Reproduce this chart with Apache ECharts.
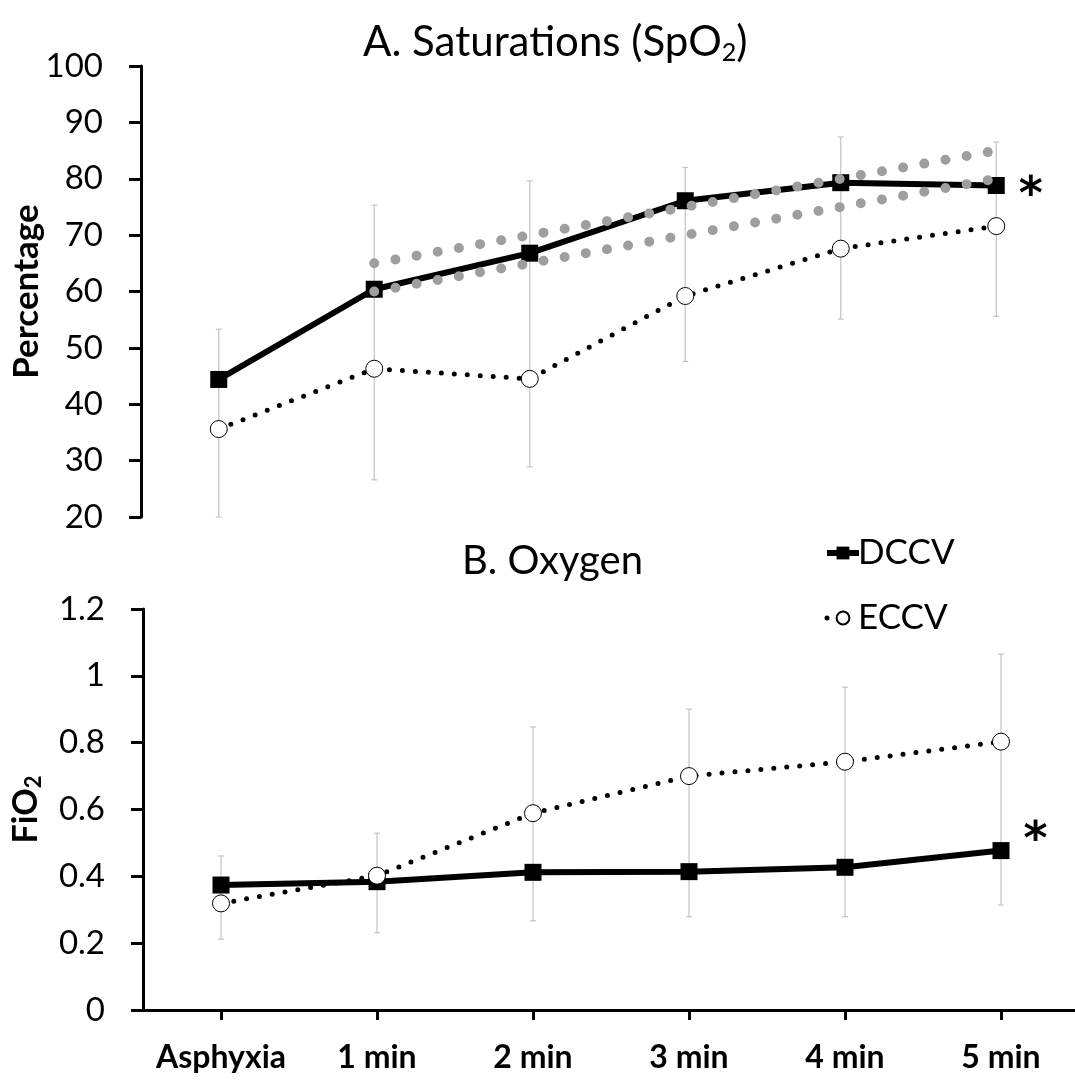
<!DOCTYPE html>
<html><head><meta charset="utf-8">
<script src="https://cdn.jsdelivr.net/npm/echarts@6/dist/echarts.min.js"></script>
<style>html,body{margin:0;padding:0;background:#fff}#c{width:1075px;height:1084px}</style>
</head><body><div id="c"></div>
<script>
// ---- data ----
const categories = ['Asphyxia', '1 min', '2 min', '3 min', '4 min', '5 min'];
const spo2DCCV = [44.4, 60.4, 66.8, 76.1, 79.3, 78.8];
const spo2ECCV = [35.6, 46.3, 44.5, 59.2, 67.6, 71.6];
const spo2ErrHigh = [53.3, 75.3, 79.6, 82.0, 87.4, 86.5];
const spo2ErrLow = [20.0, 26.6, 28.9, 47.6, 55.1, 55.6];
const targetUpper = [null, 65, 70, 75, 80, 85];
const targetLower = [null, 60, 65, 70, 75, 80];
const fio2DCCV = [0.374, 0.384, 0.412, 0.414, 0.427, 0.477];
const fio2ECCV = [0.319, 0.402, 0.589, 0.700, 0.743, 0.803];
const fio2ErrHigh = [0.461, 0.529, 0.847, 0.900, 0.966, 1.065];
const fio2ErrLow = [0.212, 0.231, 0.267, 0.279, 0.279, 0.314];
const spo2Ticks = [20, 30, 40, 50, 60, 70, 80, 90, 100];
const fio2Ticks = [0, 0.2, 0.4, 0.6, 0.8, 1, 1.2];
const seriesNames = ['DCCV', 'ECCV'];
const significanceMark = '*';

// ---- chart ----
const FONT = 'Lato';
const chart = echarts.init(document.getElementById('c'), null, {renderer: 'canvas'});

function errRender(params, api) {
  const x = api.value(0);
  const pHi = api.coord([x, api.value(1)]);
  const pLo = api.coord([x, api.value(2)]);
  const cw = 3;
  const style = {stroke: '#c3c3c3', lineWidth: 1.2};
  return {type: 'group', children: [
    {type: 'line', shape: {x1: pHi[0], y1: pHi[1], x2: pLo[0], y2: pLo[1]}, style: style},
    {type: 'line', shape: {x1: pHi[0] - cw, y1: pHi[1], x2: pHi[0] + cw, y2: pHi[1]}, style: style},
    {type: 'line', shape: {x1: pLo[0] - cw, y1: pLo[1], x2: pLo[0] + cw, y2: pLo[1]}, style: style}
  ]};
}
function errData(hi, lo) { return categories.map((c, i) => [i, hi[i], lo[i]]); }
function withMark(arr, offset) {
  return arr.map((v, i) => i === arr.length - 1 ? {
    value: v,
    label: {show: true, formatter: significanceMark, position: 'right', distance: 14, offset: offset,
      fontSize: 46, fontWeight: 'bold', color: '#000', fontFamily: 'DejaVu Sans'}
  } : v);
}

const yAxisCommon = {
  type: 'value',
  axisLine: {show: true, lineStyle: {color: '#000', width: 3}},
  axisTick: {show: true, length: 12, lineStyle: {color: '#000', width: 3}},
  splitLine: {show: false},
  axisLabel: {fontSize: 33, color: '#000', fontFamily: FONT, margin: 38},
  nameLocation: 'middle',
  nameRotate: 90,
  nameMoveOverlap: false
};

const dccvStyle = {
  type: 'line', symbol: 'rect', symbolSize: 17,
  itemStyle: {color: '#000'},
  lineStyle: {color: '#000', width: 6},
  z: 3
};
const eccvStyle = {
  type: 'line', symbol: 'circle', symbolSize: 17,
  itemStyle: {color: '#fff', borderColor: '#000', borderWidth: 1},
  lineStyle: {color: '#000', width: 5, type: [0, 13], cap: 'round'},
  z: 4
};
const targetStyle = {
  type: 'line', symbol: 'none', silent: true,
  lineStyle: {color: '#9e9e9e', width: 10, type: [0, 21.5], cap: 'round'},
  z: 5
};

const option = {
  backgroundColor: '#fff',
  animation: false,
  title: [
    {text: '{a|A. Saturations (SpO}{s|2}{a|)}', left: 358, top: 14,
      textStyle: {fontWeight: 'normal', rich: {a: {fontSize: 42, fontFamily: FONT, color: '#000', fontWeight: 'normal'},
        s: {fontSize: 25, fontFamily: FONT, color: '#000', fontWeight: 'normal', padding: [21, 0, 0, 0]}}}},
    {text: 'B. Oxygen', left: 457, top: 536,
      textStyle: {fontSize: 40, fontFamily: FONT, color: '#000', fontWeight: 'normal'}}
  ],
  legend: {
    data: [
      {name: seriesNames[0], lineStyle: {width: 6}},
      {name: seriesNames[1], lineStyle: {width: 5, type: [0, 16], cap: 'round'}}
    ],
    orient: 'vertical', left: 824, top: 532, padding: 0,
    itemWidth: 32, itemHeight: 16, itemGap: 23,
    textStyle: {fontSize: 35, fontFamily: FONT, color: '#000', lineHeight: 42, padding: [0, 0, 0, -6]}
  },
  grid: [
    {left: 141, top: 66, width: 933, height: 451, containLabel: false, outerBoundsMode: 'none'},
    {left: 143, top: 609, width: 936, height: 401, containLabel: false, outerBoundsMode: 'none'}
  ],
  xAxis: [
    {type: 'category', gridIndex: 0, data: categories, show: false},
    {type: 'category', gridIndex: 1, data: categories,
      axisLine: {show: true, lineStyle: {color: '#000', width: 3}},
      axisTick: {show: true, alignWithLabel: true, length: 10, lineStyle: {color: '#000', width: 3}},
      axisLabel: {fontSize: 32, fontWeight: 'bold', color: '#000', fontFamily: FONT, margin: 32, interval: 0}}
  ],
  yAxis: [
    Object.assign({}, yAxisCommon, {gridIndex: 0,
      min: spo2Ticks[0], max: spo2Ticks[spo2Ticks.length - 1], interval: spo2Ticks[1] - spo2Ticks[0],
      name: 'Percentage', nameGap: 97,
      nameTextStyle: {fontSize: 35, fontWeight: 'bold', color: '#000', fontFamily: FONT}}),
    Object.assign({}, yAxisCommon, {gridIndex: 1,
      min: fio2Ticks[0], max: fio2Ticks[fio2Ticks.length - 1], interval: fio2Ticks[1] - fio2Ticks[0],
      axisLabel: Object.assign({}, yAxisCommon.axisLabel, {formatter: v => String(+v.toFixed(1))}),
      name: '{a|FiO}{s|2}', nameGap: 98,
      nameTextStyle: {rich: {a: {fontSize: 34, fontWeight: 'bold', color: '#000', fontFamily: FONT},
        s: {fontSize: 22, fontWeight: 'bold', color: '#000', fontFamily: FONT, padding: [16, 0, 0, 0]}}}})
  ],
  series: [
    {type: 'custom', xAxisIndex: 0, yAxisIndex: 0, renderItem: errRender, data: errData(spo2ErrHigh, spo2ErrLow),
      encode: {x: 0, y: [1, 2]}, z: 1, silent: true},
    Object.assign({}, dccvStyle, {name: seriesNames[0], xAxisIndex: 0, yAxisIndex: 0,
      data: withMark(spo2DCCV, [0, 12])}),
    Object.assign({}, eccvStyle, {name: seriesNames[1], xAxisIndex: 0, yAxisIndex: 0, data: spo2ECCV}),
    Object.assign({}, targetStyle, {name: 'target-upper', xAxisIndex: 0, yAxisIndex: 0, data: targetUpper}),
    Object.assign({}, targetStyle, {name: 'target-lower', xAxisIndex: 0, yAxisIndex: 0, data: targetLower}),

    {type: 'custom', xAxisIndex: 1, yAxisIndex: 1, renderItem: errRender, data: errData(fio2ErrHigh, fio2ErrLow),
      encode: {x: 0, y: [1, 2]}, z: 1, silent: true},
    Object.assign({}, dccvStyle, {name: seriesNames[0], xAxisIndex: 1, yAxisIndex: 1,
      data: withMark(fio2DCCV, [0, -9])}),
    Object.assign({}, eccvStyle, {name: seriesNames[1], xAxisIndex: 1, yAxisIndex: 1, data: fio2ECCV})
  ]
};
chart.setOption(option);
</script></body></html>
